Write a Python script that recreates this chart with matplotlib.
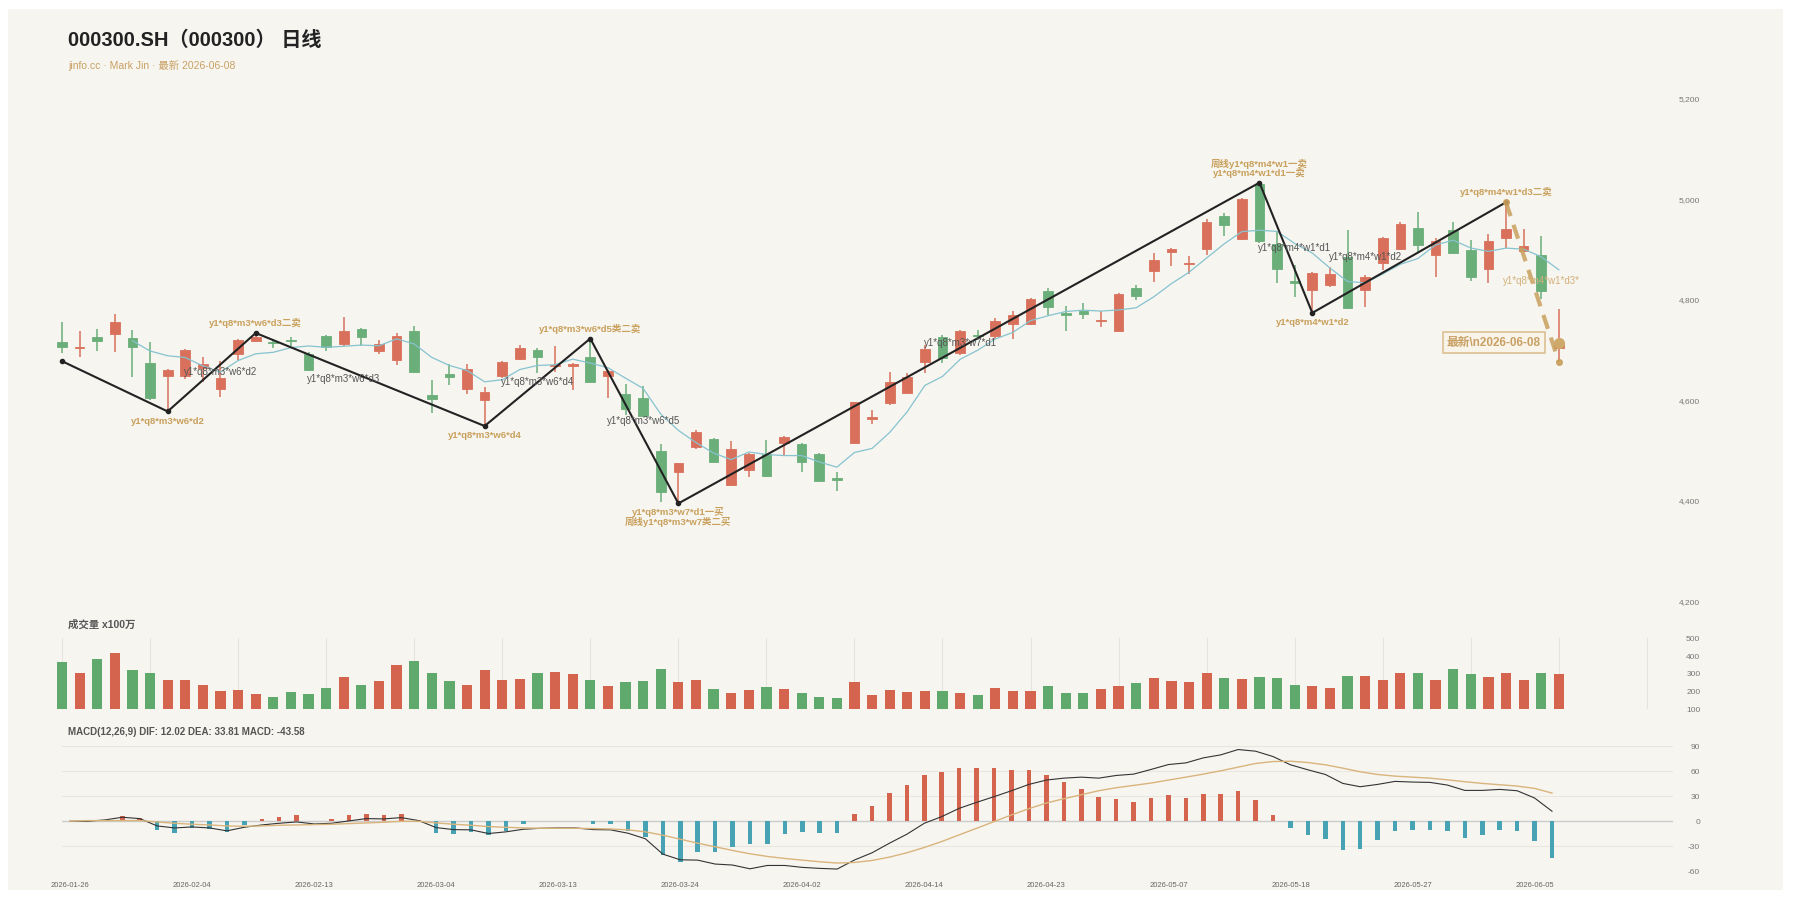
import matplotlib
matplotlib.use("Agg")
import matplotlib.pyplot as plt
from matplotlib.patches import Rectangle
from matplotlib.ticker import FuncFormatter

plt.rcParams['font.family'] = ['Liberation Sans', 'Noto Sans CJK SC', 'DejaVu Sans']

# ---------------- data ----------------
date_ticks = [0, 7, 14, 21, 28, 35, 42, 49, 56, 63, 70, 77, 84]
date_labels = ["2026-01-26", "2026-02-04", "2026-02-13", "2026-03-04", "2026-03-13",
               "2026-03-24", "2026-04-02", "2026-04-14", "2026-04-23", "2026-05-07",
               "2026-05-18", "2026-05-27", "2026-06-05"]

opens = [4717, 4705, 4727, 4733, 4724, 4675, 4648, 4648, 4664, 4623,
         4693, 4719, 4717, 4721, 4693, 4728, 4713, 4742, 4699, 4680,
         4738, 4610, 4652, 4622, 4600, 4648, 4682, 4701, 4668, 4669,
         4687, 4648, 4613, 4604, 4499, 4458, 4507, 4524, 4432, 4461,
         4493, 4516, 4514, 4493, 4446, 4516, 4563, 4594, 4615, 4676,
         4727, 4695, 4730, 4728, 4751, 4752, 4818, 4773, 4778, 4757,
         4738, 4823, 4858, 4896, 4871, 4902, 4967, 4920, 5030, 4912,
         4837, 4820, 4830, 4886, 4820, 4874, 4902, 4942, 4889, 4939,
         4900, 4861, 4922, 4898, 4889, 4704]
highs = [4755, 4737, 4741, 4772, 4739, 4717, 4662, 4702, 4687, 4678,
         4722, 4734, 4723, 4727, 4696, 4731, 4766, 4743, 4721, 4735,
         4747, 4640, 4672, 4672, 4626, 4678, 4711, 4704, 4708, 4675,
         4723, 4660, 4632, 4629, 4514, 4476, 4541, 4526, 4520, 4495,
         4522, 4530, 4516, 4495, 4458, 4597, 4580, 4656, 4654, 4710,
         4730, 4740, 4739, 4763, 4778, 4803, 4824, 4788, 4794, 4778,
         4814, 4830, 4894, 4904, 4888, 4960, 4972, 5002, 5033, 4936,
         4869, 4856, 4866, 4939, 4849, 4924, 4954, 4975, 4922, 4955,
         4919, 4931, 4994, 4941, 4926, 4781]
lows = [4694, 4687, 4699, 4697, 4646, 4601, 4578, 4642, 4637, 4607,
        4680, 4717, 4705, 4708, 4658, 4699, 4708, 4708, 4693, 4670,
        4654, 4575, 4630, 4613, 4549, 4644, 4680, 4655, 4657, 4621,
        4636, 4604, 4571, 4566, 4397, 4395, 4503, 4476, 4430, 4447,
        4448, 4491, 4458, 4438, 4420, 4515, 4553, 4591, 4614, 4655,
        4674, 4690, 4720, 4723, 4723, 4750, 4770, 4737, 4761, 4745,
        4737, 4800, 4836, 4867, 4851, 4889, 4927, 4919, 4914, 4834,
        4806, 4774, 4826, 4781, 4786, 4859, 4900, 4896, 4845, 4891,
        4838, 4833, 4904, 4896, 4801, 4677]
closes = [4707, 4707, 4718, 4755, 4706, 4605, 4660, 4700, 4672, 4644,
          4720, 4727, 4715, 4719, 4660, 4707, 4737, 4727, 4712, 4729,
          4656, 4603, 4647, 4662, 4617, 4676, 4705, 4687, 4670, 4672,
          4637, 4659, 4583, 4568, 4417, 4475, 4538, 4478, 4503, 4493,
          4450, 4527, 4478, 4440, 4441, 4596, 4567, 4637, 4647, 4702,
          4685, 4737, 4728, 4758, 4769, 4801, 4786, 4770, 4771, 4760,
          4812, 4808, 4879, 4902, 4873, 4954, 4949, 5000, 4916, 4861,
          4834, 4854, 4851, 4783, 4846, 4923, 4950, 4909, 4917, 4894,
          4845, 4917, 4941, 4907, 4818, 4715]
volumes = [365, 303, 384, 417, 320, 306, 265, 265, 237, 204,
           207, 185, 171, 196, 187, 219, 284, 235, 262, 350,
           372, 305, 260, 237, 323, 263, 269, 305, 310, 297,
           263, 233, 254, 260, 327, 256, 263, 213, 192, 209,
           224, 215, 190, 168, 162, 254, 183, 209, 198, 204,
           204, 192, 181, 220, 204, 204, 231, 192, 190, 215,
           231, 250, 274, 259, 252, 304, 274, 269, 280, 276,
           237, 231, 219, 287, 287, 263, 304, 304, 267, 330,
           297, 282, 304, 263, 302, 299]
ma5_start = 4
ma5 = [4718.6, 4698.2, 4688.8, 4685.2, 4668.6, 4656.2, 4679.2, 4692.6, 4695.6, 4705.0,
       4708.2, 4705.6, 4707.6, 4710.0, 4708.6, 4722.4, 4712.2, 4685.4, 4669.4, 4659.4,
       4637.0, 4641.0, 4661.4, 4669.4, 4671.0, 4682.0, 4674.2, 4665.0, 4644.2, 4623.8,
       4572.8, 4540.4, 4516.2, 4495.2, 4482.2, 4497.4, 4492.4, 4490.2, 4490.2, 4477.6,
       4467.2, 4496.4, 4504.4, 4536.2, 4577.6, 4629.8, 4647.6, 4681.6, 4699.8, 4722.0,
       4735.4, 4758.6, 4768.4, 4776.8, 4779.4, 4777.6, 4779.8, 4784.2, 4806.0, 4832.2,
       4854.8, 4883.2, 4911.4, 4935.6, 4938.4, 4936.0, 4912.0, 4893.0, 4863.2, 4836.6,
       4833.6, 4851.4, 4870.6, 4882.2, 4909.0, 4918.6, 4903.0, 4896.4, 4902.8, 4900.8,
       4885.6, 4859.6]
dif = [0.0, 0.0, 1.6, 4.8, 3.2, -5.6, -8.0, -6.8, -8.0, -11.5,
       -7.2, -4.4, -2.4, -0.8, -3.2, -2.4, 0.4, 3.2, 2.8, 4.4,
       0.8, -7.6, -10.0, -10.3, -14.7, -12.7, -9.6, -8.4, -8.0, -8.0,
       -10.0, -10.3, -14.3, -21.0, -39.4, -46.2, -46.6, -51.3, -52.5, -57.0,
       -53.0, -53.0, -55.3, -56.5, -57.3, -46.4, -37.8, -26.3, -15.5, -2.4,
       5.6, 15.5, 22.7, 29.5, 36.6, 44.2, 49.4, 51.7, 52.9, 51.7,
       54.9, 56.5, 62.1, 68.0, 70.0, 76.0, 79.6, 86.0, 84.0, 77.6,
       67.7, 61.7, 56.1, 45.4, 41.4, 44.2, 47.8, 47.0, 46.6, 43.4,
       37.0, 37.0, 38.2, 36.6, 27.9, 12.02]
dea = [0.0, 0.8, 0.8, 0.8, 0.8, -0.8, -2.4, -3.6, -4.4, -5.6,
       -6.0, -5.6, -4.8, -4.4, -4.0, -3.6, -2.8, -2.0, -1.2, 0.0,
       0.0, -2.0, -3.6, -4.8, -6.4, -7.2, -8.0, -8.4, -8.4, -8.4,
       -8.8, -9.2, -10.3, -12.7, -16.7, -21.5, -26.3, -30.6, -35.0, -39.0,
       -42.2, -44.6, -46.6, -48.6, -50.1, -49.4, -47.0, -43.0, -37.8, -31.4,
       -24.3, -16.3, -8.4, -0.4, 7.6, 15.1, 21.9, 27.0, 31.8, 36.6,
       40.2, 43.0, 45.8, 49.4, 52.9, 56.5, 60.5, 64.9, 69.3, 71.6,
       72.0, 70.4, 67.7, 63.7, 59.3, 56.1, 54.1, 52.9, 51.7, 49.7,
       47.4, 45.4, 43.8, 42.2, 39.4, 33.81]
macd_hist = [0.0, 0.0, 0.5, 6.0, 3.6, -11.0, -13.5, -8.4, -8.8, -12.3,
             -4.0, 2.8, 5.2, 7.6, 0.8, 2.8, 7.6, 9.2, 7.6, 8.4,
             1.0, -14.0, -14.7, -13.0, -17.0, -11.5, -3.2, 0.8, 0.8, 0.8,
             -3.2, -2.8, -11.5, -18.7, -41.0, -49.0, -37.0, -37.0, -31.4, -27.0,
             -27.5, -15.5, -12.7, -14.3, -13.5, 8.4, 18.3, 33.8, 43.8, 55.3,
             58.5, 64.0, 63.3, 63.3, 61.3, 60.9, 55.3, 46.6, 38.2, 28.7,
             27.0, 23.5, 27.9, 31.8, 27.9, 33.0, 33.0, 36.2, 25.0, 7.6,
             -7.6, -15.9, -21.5, -34.2, -33.4, -22.3, -11.9, -10.7, -10.0, -11.9,
             -20.3, -16.3, -10.3, -11.1, -23.5, -43.58]

# stroke (bi) vertices
bi_idx = [0, 6, 11, 24, 30, 35, 68, 71, 82]
bi_price = [4678, 4578, 4734, 4549, 4723, 4395, 5033, 4774, 4994]
pending_idx = [82, 85]
pending_price = [4994, 4677]

# gold signal labels: (vertex position in bi list, text, offset in px)
sig_labels = [
    (1, "y1*q8*m3*w6*d2", -10),
    (2, "y1*q8*m3*w6*d3二卖", 10),
    (3, "y1*q8*m3*w6*d4", -9),
    (4, "y1*q8*m3*w6*d5类二卖", 10),
    (5, "y1*q8*m3*w7*d1一买", -9),
    (5, "周线y1*q8*m3*w7类二买", -18.5),
    (6, "周线y1*q8*m4*w1一卖", 18.7),
    (6, "y1*q8*m4*w1*d1一卖", 9.4),
    (7, "y1*q8*m4*w1*d2", -9.6),
    (8, "y1*q8*m4*w1*d3二卖", 10.4),
]
# grey segment labels
seg_x = [9, 16, 27, 33, 51, 70, 74]
seg_y = [4656, 4642, 4636, 4559, 4714, 4904, 4885]
seg_text = ["y1*q8*m3*w6*d2", "y1*q8*m3*w6*d3", "y1*q8*m3*w6*d4", "y1*q8*m3*w6*d5",
            "y1*q8*m3*w7*d1", "y1*q8*m4*w1*d1", "y1*q8*m4*w1*d2"]
pending_label = ("y1*q8*m4*w1*d3*", 84, 4837)
latest_text = "最新\\n2026-06-08"

# ---------------- style ----------------
BG = "#f6f5f0"
RED = "#d9705c"
GREEN = "#6aae7a"
VRED = "#d4644e"
VGREEN = "#60a96c"
TEAL = "#47a2b4"
GOLD = "#c9a05c"
MA_C = "#86c3cf"

W, H = 1800, 900
fig = plt.figure(figsize=(18, 9), dpi=100)
fig.patch.set_facecolor("white")
fig.add_artist(Rectangle((8 / W, 10 / H), (1783 - 8) / W, (891 - 10) / H,
                         transform=fig.transFigure, facecolor=BG, edgecolor="none", zorder=-10))

def fx(px):
    return px / W

def fy(py):
    return 1 - py / H

n = len(closes)
xs = list(range(n))

# price panel
ax = fig.add_axes([fx(53.2), fy(601.5), fx(1673.3 - 53.2), (601.5 - 98.7) / H])
axv = fig.add_axes([fx(53.2), fy(709.4), fx(1673.3 - 53.2), (709.4 - 638.3) / H])
axm = fig.add_axes([fx(62), fy(871.3), fx(1673 - 62), (871.3 - 746.2) / H])

for a in (ax, axv, axm):
    a.set_facecolor("none")
    for s in a.spines.values():
        s.set_visible(False)

ax.set_xlim(-0.5, 91.5)
ax.set_ylim(4200, 5200)
axv.set_xlim(-0.5, 91.5)
axv.set_ylim(100, 500)
axm.set_xlim(-0.459, 91.94)
axm.set_ylim(-60, 90)

# candles
up = [c >= o for o, c in zip(opens, closes)]
ccol = [RED if u else GREEN for u in up]
ax.vlines(xs, lows, highs, colors=ccol, linewidth=1.1, zorder=2)
bottoms = [min(o, c) for o, c in zip(opens, closes)]
heights = [max(abs(c - o), 2.0) for o, c in zip(opens, closes)]
ax.bar(xs, heights, bottom=bottoms, width=0.55, color=ccol, edgecolor=ccol,
       linewidth=0.6, zorder=3)

# MA5
ax.plot(list(range(ma5_start, ma5_start + len(ma5))), ma5, color=MA_C, lw=0.9, zorder=4)

# bi lines
ax.plot(bi_idx, bi_price, color="#222222", lw=1.5, zorder=5)
ax.plot(bi_idx, bi_price, "o", color="#222222", ms=3, zorder=6)
ax.plot(pending_idx, pending_price, color=GOLD, lw=3, ls=(0, (3.5, 2.2)), alpha=0.85, zorder=5)
ax.plot([pending_idx[0]], [pending_price[0]], "o", color=GOLD, ms=4, alpha=0.9, zorder=6)
ax.plot([pending_idx[1]], [pending_price[1]], "o", color=GOLD, ms=4, alpha=0.9, zorder=6)
ax.plot([n - 1], [closes[-1]], "o", color="#cfa96a", ms=7, zorder=7)

for vi, txt, off in sig_labels:
    ax.annotate(txt, (bi_idx[vi], bi_price[vi]), xytext=(0, off * 0.72),
                textcoords="offset points", ha="center", va="center",
                fontsize=6.8, fontweight="bold", color=GOLD, zorder=8)

for x, y, t in zip(seg_x, seg_y, seg_text):
    ax.text(x, y, t, ha="center", va="center", fontsize=7, color="#555555", zorder=8)

ax.text(pending_label[1], pending_label[2], pending_label[0], ha="center", va="center",
        fontsize=7, color="#d4b07a", zorder=8)

ax.annotate(latest_text, (n - 1, closes[-1]), xytext=(-13, 0), textcoords="offset points",
            ha="right", va="center", fontsize=8.5, fontweight="bold", color="#c9a063",
            bbox=dict(boxstyle="square,pad=0.35", facecolor="#f8f4ea", edgecolor="#dcc093", lw=1.2),
            zorder=9)

# volume
vcol = [VRED if u else VGREEN for u in up]
axv.bar(xs, [v - 100 for v in volumes], bottom=100, width=0.58, color=vcol, zorder=3)
axv.set_xticks(list(range(0, 91, 5)))
axv.grid(axis="x", color="#e6e4dd", lw=0.8, zorder=0)
axv.tick_params(axis="x", length=0, labelbottom=False)

# MACD
mcol = [VRED if v >= 0 else TEAL for v in macd_hist]
axm.bar(xs, macd_hist, width=0.26, color=mcol, zorder=3)
axm.plot(xs, dif, color="#333333", lw=0.8, zorder=4)
axm.plot(xs, dea, color="#d9b47c", lw=1.0, zorder=4)
axm.set_yticks([-60, -30, 0, 30, 60, 90])
axm.grid(axis="y", color="#e8e6df", lw=0.8, zorder=0)
axm.axhline(0, color="#cccccc", lw=1.0, zorder=2)
axm.set_xticks(date_ticks)
axm.set_xticklabels(date_labels)
axm.tick_params(axis="x", length=0, labelsize=5.5, labelcolor="#666666", pad=8)

# y tick labels on the right, right-aligned near x=1700
for a, ticks, fmt in ((ax, [4200, 4400, 4600, 4800, 5000, 5200], lambda v, p: f"{v:,.0f}"),
                      (axv, [100, 200, 300, 400, 500], lambda v, p: f"{v:.0f}"),
                      (axm, [-60, -30, 0, 30, 60, 90], lambda v, p: f"{v:.0f}")):
    a.set_yticks(ticks)
    a.yaxis.set_major_formatter(FuncFormatter(fmt))
    a.yaxis.tick_right()
    a.tick_params(axis="y", length=0, labelsize=6, labelcolor="#777777", pad=19.5)
    for lab in a.get_yticklabels():
        lab.set_horizontalalignment("right")

ax.tick_params(axis="x", length=0, labelbottom=False)

# titles
fig.text(fx(68), fy(40), "000300.SH（000300） 日线", fontsize=14.5, fontweight="bold",
         color="#222222", ha="left", va="center")
fig.text(fx(68), fy(65.5), "jinfo.cc · Mark Jin · 最新 2026-06-08", fontsize=7.5,
         color="#c9a063", ha="left", va="center")
fig.text(fx(68), fy(624.5), "成交量 x100万", fontsize=7.5, fontweight="bold",
         color="#555555", ha="left", va="center")
fig.text(fx(68), fy(732.4), "MACD(12,26,9) DIF: 12.02 DEA: 33.81 MACD: -43.58", fontsize=7,
         fontweight="bold", color="#555555", ha="left", va="center")

fig.savefig("out.png", dpi=100, facecolor=fig.get_facecolor())
